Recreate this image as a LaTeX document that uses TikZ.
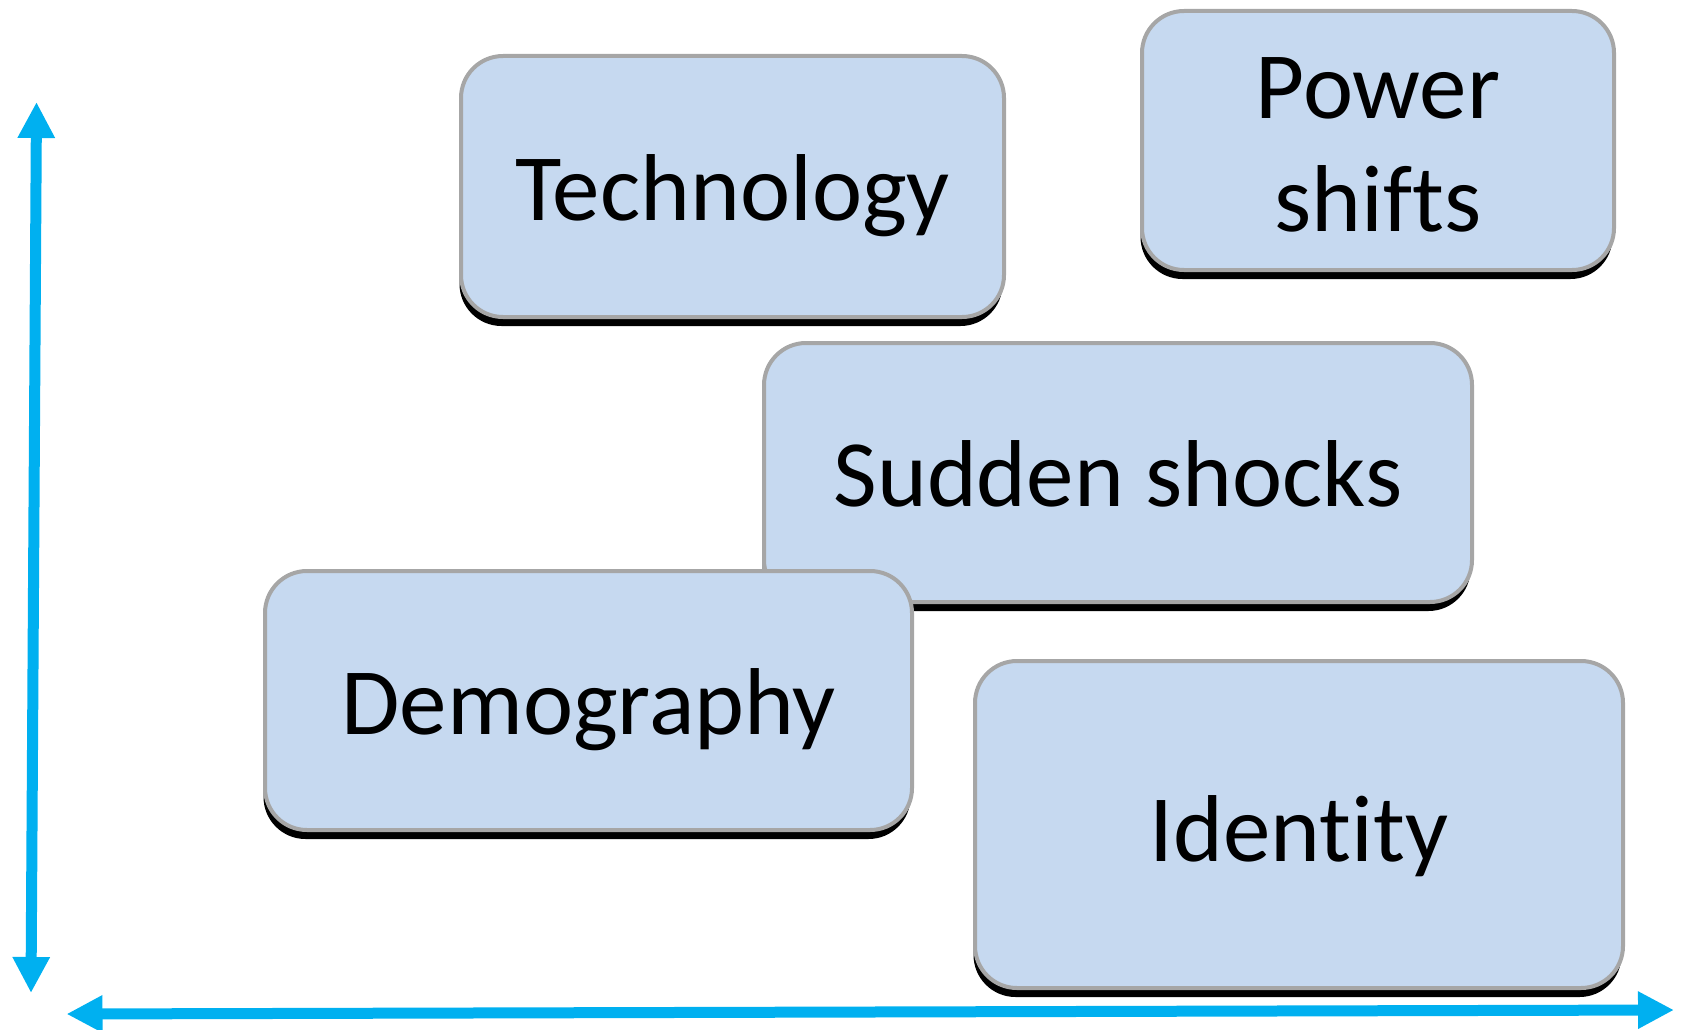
\documentclass[tikz,border=0pt]{standalone}
\usepackage{fontspec}
\setmainfont{Carlito}[Ligatures=NoCommon]
\usetikzlibrary{arrows.meta,shadows}
\definecolor{boxfill}{HTML}{C6D9F0}
\definecolor{boxline}{HTML}{A6A6A6}
\definecolor{axiscol}{HTML}{00B0F0}
\tikzset{
  box/.style={draw=boxline, fill=boxfill, line width=4pt, rounded corners=42pt,
    inner sep=0pt, font=\fontsize{95}{113}\selectfont, align=center,
    text height=67pt, text depth=0pt,
    drop shadow={shadow xshift=-1.5pt, shadow yshift=-9pt, fill=black, opacity=1}},
  axis/.style={draw=axiscol, line width=11pt, {Triangle[length=36pt,width=35pt]}-{Triangle[length=36pt,width=35pt]}}
}
\begin{document}
\begin{tikzpicture}[x=1pt,y=-1pt]
\useasboundingbox (0,0) rectangle (1683,1030);
\node[box, minimum width=543pt, minimum height=261pt] (tech) at (732.5,186.5) {Technology};
\node[box, minimum width=472pt, minimum height=259pt, text height=181pt, text depth=0pt] (power) at (1378,140.5) {Power\\shifts};
\node[box, minimum width=708pt, minimum height=259pt] (shock) at (1118,472.5) {Sudden shocks};
\node[box, minimum width=647pt, minimum height=259pt] (demo) at (588.5,700.5) {Demography};
\node[box, minimum width=648pt, minimum height=327pt, text height=73pt] (ident) at (1299,824.5) {Identity};
\coordinate (vtop) at (36.5,102);
\coordinate (vbot) at (31,993);
\coordinate (hleft) at (66.5,1014);
\coordinate (hright) at (1674,1010);
\draw[axis] (vbot) -- (vtop);
\draw[axis] (hleft) -- (hright);
\end{tikzpicture}
\end{document}
